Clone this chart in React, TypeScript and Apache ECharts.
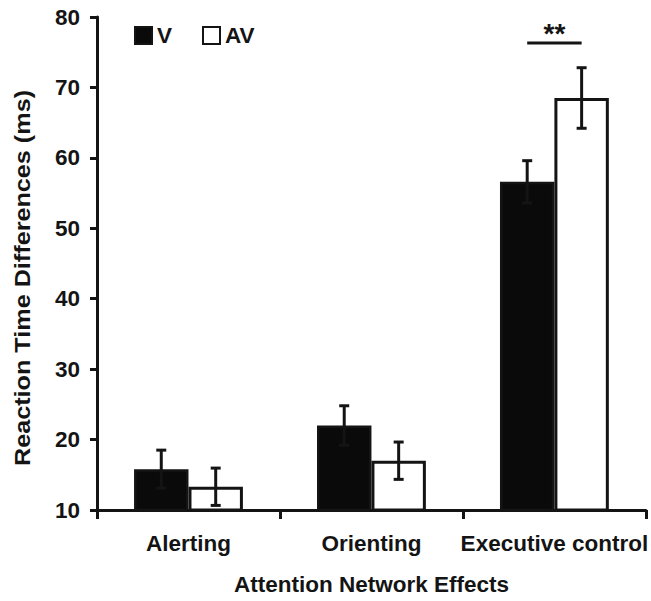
import React, { useEffect, useRef } from "react";
import * as echarts from "echarts";

const categories = ["Alerting", "Orienting", "Executive control"];
const vMeans = [15.8, 22.0, 56.6];
const avMeans = [13.3, 17.0, 68.5];
const vErr = [2.7, 2.8, 3.0];
const avErr = [2.65, 2.65, 4.3];
const yTicks = { min: 10, max: 80, interval: 10 };
const sigCategory = 2;
const sigLineValue = 76.3;
const sigLabel = "**";

const FONT = "'Liberation Sans', Arial, Helvetica, sans-serif";
const INK = "#141414";
const CAT_GAP = 0.405;
const FS = 22.5;

export default function App() {
  const ref = useRef<HTMLDivElement>(null);
  useEffect(() => {
    if (!ref.current) return;
    const chart = echarts.init(ref.current, undefined, { renderer: "svg" });

    const errData: number[][] = [];
    categories.forEach((_, i) => {
      errData.push([i, vMeans[i] - vErr[i], vMeans[i] + vErr[i], 0]);
      errData.push([i, avMeans[i] - avErr[i], avMeans[i] + avErr[i], 1]);
    });

    const option: any = {
      animation: false,
      backgroundColor: "#ffffff",
      grid: { left: 97, right: 4, top: 17, bottom: 86, containLabel: false },
      legend: {
        left: 134,
        top: 24,
        padding: 0,
        itemWidth: 17,
        itemHeight: 17,
        itemGap: 30,
        icon: "rect",
        data: ["V", "AV"],
        textStyle: { fontFamily: FONT, fontWeight: "bold", fontSize: FS, color: INK },
      },
      xAxis: {
        type: "category",
        data: categories,
        name: "Attention Network Effects",
        nameLocation: "middle",
        nameGap: 63,
        nameTextStyle: { fontFamily: FONT, fontWeight: "bold", fontSize: FS, color: INK },
        axisLine: { lineStyle: { color: INK, width: 3 } },
        axisTick: { show: true, length: 9, interval: 0, alignWithLabel: false, lineStyle: { color: INK, width: 3 } },
        axisLabel: { fontFamily: FONT, fontWeight: "bold", fontSize: FS, color: INK, margin: 22, interval: 0 },
        splitLine: { show: false },
      },
      yAxis: {
        type: "value",
        min: yTicks.min,
        max: yTicks.max,
        interval: yTicks.interval,
        axisLine: { show: true, lineStyle: { color: INK, width: 3 } },
        axisTick: { show: true, length: 7, lineStyle: { color: INK, width: 3 } },
        axisLabel: { fontFamily: FONT, fontWeight: "bold", fontSize: FS, color: INK, margin: 17 },
        splitLine: { show: false },
      },
      graphic: [
        {
          type: "text",
          x: 22,
          y: 278,
          rotation: Math.PI / 2,
          scaleX: 1.12,
          style: {
            text: "Reaction Time Differences (ms)",
            fontFamily: FONT,
            fontWeight: "bold",
            fontSize: FS,
            fill: INK,
            align: "center",
            verticalAlign: "middle",
          },
        },
      ],
      series: [
        {
          name: "V",
          type: "bar",
          data: vMeans,
          barGap: "0%",
          barCategoryGap: `${CAT_GAP * 100}%`,
          itemStyle: { color: "#0a0a0a", borderColor: INK, borderWidth: 2.5 },
        },
        {
          name: "AV",
          type: "bar",
          data: avMeans,
          barGap: "0%",
          barCategoryGap: `${CAT_GAP * 100}%`,
          itemStyle: { color: "#ffffff", borderColor: INK, borderWidth: 3 },
        },
        {
          type: "custom",
          silent: true,
          z: 10,
          data: errData,
          renderItem: (params: any, api: any) => {
            const cat = api.value(0);
            const lo = api.value(1);
            const hi = api.value(2);
            const which = api.value(3);
            const catW = api.size([1, 0])[0];
            const bw = (catW * (1 - CAT_GAP)) / 2;
            const center = api.coord([cat, lo]);
            const x = center[0] + (which === 0 ? -bw / 2 : bw / 2);
            const yLo = api.coord([cat, lo])[1];
            const yHi = api.coord([cat, hi])[1];
            const cap = 5;
            const style = { stroke: INK, lineWidth: 3 };
            return {
              type: "group",
              children: [
                { type: "line", shape: { x1: x, y1: yLo, x2: x, y2: yHi }, style },
                { type: "line", shape: { x1: x - cap, y1: yLo, x2: x + cap, y2: yLo }, style },
                { type: "line", shape: { x1: x - cap, y1: yHi, x2: x + cap, y2: yHi }, style },
              ],
            };
          },
        },
        {
          type: "custom",
          silent: true,
          z: 10,
          data: [[sigCategory, sigLineValue]],
          renderItem: (params: any, api: any) => {
            const cat = api.value(0);
            const v = api.value(1);
            const catW = api.size([1, 0])[0];
            const bw = (catW * (1 - CAT_GAP)) / 2;
            const p = api.coord([cat, v]);
            const x1 = p[0] - bw / 2;
            const x2 = p[0] + bw / 2;
            return {
              type: "group",
              children: [
                { type: "line", shape: { x1, y1: p[1], x2, y2: p[1] }, style: { stroke: INK, lineWidth: 3 } },
                {
                  type: "text",
                  x: (x1 + x2) / 2,
                  y: p[1] + 4,
                  style: {
                    text: sigLabel,
                    fontFamily: FONT,
                    fontWeight: "bold",
                    fontSize: 28,
                    fill: INK,
                    align: "center",
                    verticalAlign: "bottom",
                  },
                },
              ],
            };
          },
        },
      ],
    };
    chart.setOption(option);
    return () => chart.dispose();
  }, []);
  return <div ref={ref} style={{ width: 651, height: 601, position: "absolute", left: 0, top: 0 }} />;
}
